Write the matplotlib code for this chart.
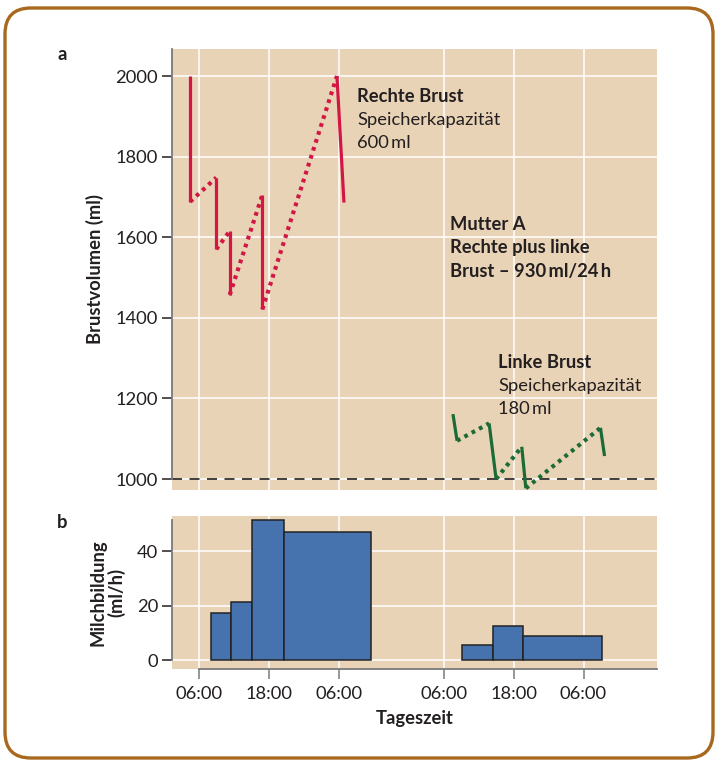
import matplotlib
matplotlib.use("Agg")
import matplotlib.pyplot as plt
from matplotlib.patches import FancyBboxPatch

plt.rcParams['font.family'] = ['Lato', 'DejaVu Sans']

# --- data -------------------------------------------------------------
# time axis in hours (06:00 day 1 = 6)
tick_pos = [6, 18, 30, 48, 60, 72]
tick_labels = ['06:00', '18:00', '06:00', '06:00', '18:00', '06:00']

# right breast volume (ml): alternating solid (feed) / dotted (refill)
red_t = [4.5, 4.5, 9.0, 9.0, 11.3, 11.3, 16.9, 16.9, 29.7, 30.9]
red_v = [2000, 1688, 1748, 1570, 1615, 1457, 1705, 1421, 2000, 1686]

# left breast volume (ml)
green_t = [49.6, 50.3, 55.8, 57.0, 61.4, 62.1, 74.9, 75.6]
green_v = [1161, 1095, 1138, 1000, 1080, 977, 1127, 1057]

# milk production (ml/h), step bars between edges
bars1_edges = [8.06, 11.54, 15.14, 20.7, 35.55]
bars1_rate = [17.2, 21.2, 51.4, 46.9]
bars2_edges = [51.23, 56.43, 61.63, 75.25]
bars2_rate = [5.4, 12.6, 8.8]

BG = '#E9D3B6'
RED = '#D21744'
GREEN = '#1B6B36'
BLUE = '#4673AE'
SPINE = '#7a7a7a'
TXT = '#231f20'
FS = 13.2

fig = plt.figure(figsize=(7.16, 7.61), dpi=100)

# frame
fr = fig.add_axes([0, 0, 1, 1], zorder=-10)
fr.set_xlim(0, 716)
fr.set_ylim(761, 0)
fr.axis('off')
fr.add_patch(FancyBboxPatch((5, 8), 708, 750, boxstyle='round,pad=0,rounding_size=26',
                            fc='white', ec='#A8691E', lw=2.4))


def style(ax):
    ax.set_facecolor(BG)
    ax.grid(True, color='white', lw=1.1)
    ax.set_axisbelow(True)
    for s in ['top', 'right']:
        ax.spines[s].set_visible(False)
    ax.spines['left'].set_color(SPINE)
    ax.spines['left'].set_linewidth(1.3)
    ax.spines['bottom'].set_color(SPINE)
    ax.spines['bottom'].set_linewidth(1.3)
    ax.tick_params(axis='y', length=7, width=1.1, color=TXT, labelsize=FS, labelcolor=TXT, pad=3)
    ax.tick_params(axis='x', length=7, width=1.1, color=SPINE, labelsize=FS, labelcolor=TXT, pad=5)
    ax.set_xlim(1.4, 84.6)
    ax.set_xticks(tick_pos)


# --- panel a ----------------------------------------------------------
ax = fig.add_axes([0.2402, 0.3561, 0.6774, 0.5795])
style(ax)
ax.set_ylim(972.7, 2067)
ax.set_yticks([1000, 1200, 1400, 1600, 1800, 2000])
ax.spines['left'].set_bounds(1000, 2067)
ax.spines['bottom'].set_visible(False)
ax.tick_params(axis='x', length=0, labelbottom=False)

ax.axhline(1000, color=TXT, lw=1.2, ls=(0, (6, 4.5)), zorder=2)

for t, v, col in [(red_t, red_v, RED), (green_t, green_v, GREEN)]:
    for i in range(len(t) - 1):
        if i % 2 == 0:
            ax.plot(t[i:i + 2], v[i:i + 2], color=col, lw=2.3, solid_capstyle='butt', zorder=3)
        else:
            ax.plot(t[i:i + 2], v[i:i + 2], color=col, lw=3.0, ls=(0, (0.9, 1.1)),
                    dash_capstyle='butt', zorder=3)

ax.set_ylabel('Brustvolumen (ml)', fontsize=FS, fontweight='bold', color=TXT, labelpad=8)

kw = dict(transform=fig.transFigure, fontsize=FS, color=TXT, va='center', ha='left')
blocks = [
    (357, 96, [('Rechte Brust', 'bold'), ('Speicherkapazität', 'normal'), ('600\u2009ml', 'normal')]),
    (450, 224, [('Mutter A', 'bold'), ('Rechte plus linke', 'bold'), ('Brust \u2013 930\u2009ml/24\u2009h', 'bold')]),
    (498, 362, [('Linke Brust', 'bold'), ('Speicherkapazität', 'normal'), ('180\u2009ml', 'normal')]),
]
for x0, y0, lines in blocks:
    for k, (s, w) in enumerate(lines):
        fig.text(x0 / 716, 1 - (y0 + 23.5 * k) / 761, s, fontweight=w, **kw)

fig.text(62 / 716, 1 - 55 / 761, 'a', fontsize=FS, fontweight='bold', color=TXT, ha='center', va='center')
fig.text(62 / 716, 1 - 522 / 761, 'b', fontsize=FS, fontweight='bold', color=TXT, ha='center', va='center')

# --- panel b ----------------------------------------------------------
bx = fig.add_axes([0.2402, 0.1209, 0.6774, 0.2014])
style(bx)
bx.set_ylim(-3.3, 53)
bx.set_yticks([0, 20, 40])
bx.spines['left'].set_bounds(0, 51.3)
bx.spines['bottom'].set_bounds(6, 84.6)
bx.set_xticklabels(tick_labels)

for edges, rate in [(bars1_edges, bars1_rate), (bars2_edges, bars2_rate)]:
    lefts = edges[:-1]
    widths = [edges[i + 1] - edges[i] for i in range(len(rate))]
    bx.bar(lefts, rate, width=widths, align='edge', color=BLUE, edgecolor='#222222',
           linewidth=1.1, zorder=3)

bx.set_ylabel('Milchbildung\n(ml/h)', fontsize=FS, fontweight='bold', color=TXT,
              labelpad=8, linespacing=1.05)
bx.set_xlabel('Tageszeit', fontsize=FS, fontweight='bold', color=TXT, labelpad=6)

fig.savefig('out.png', dpi=100)
